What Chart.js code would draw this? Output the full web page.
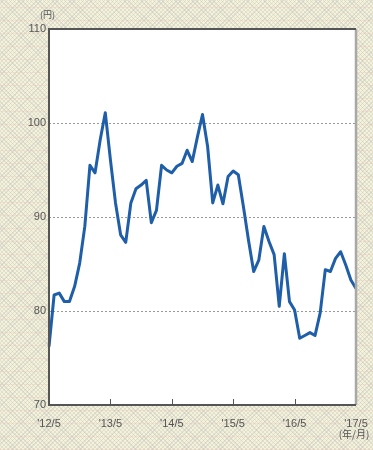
<!DOCTYPE html>
<html>
<head>
<meta charset="utf-8">
<script src="https://cdn.jsdelivr.net/npm/chart.js@4"></script>
<style>
  html, body { margin: 0; padding: 0; }
  body {
    width: 373px; height: 450px; overflow: hidden;
    background-color: #f5f2da;
    background-image:
      repeating-linear-gradient(0deg, rgba(240,180,170,.22) 0 1px, transparent 1px 13px),
      repeating-linear-gradient(45deg, rgba(185,185,185,.35) 0 1px, transparent 1px 3px),
      repeating-linear-gradient(-45deg, rgba(185,185,185,.35) 0 1px, transparent 1px 3px);
  }
  #wrap { width: 373px; height: 450px; }
</style>
</head>
<body>
<div id="wrap"><canvas id="chart"></canvas></div>
<script>
// monthly price, 2012/5 .. 2017/5 (61 points)
var prices = [
  76.2, 81.7, 81.9, 81.0, 81.0, 82.6, 85.1, 89.0, 95.5, 94.7, 98.2, 101.1,
  96.1, 91.5, 88.1, 87.3, 91.5, 93.0, 93.4, 93.9, 89.4, 90.7, 95.5, 95.0,
  94.7, 95.4, 95.7, 97.1, 95.9, 98.5, 100.9, 97.5, 91.5, 93.4, 91.4, 94.3,
  94.9, 94.5, 91.1, 87.5, 84.2, 85.4, 89.0, 87.4, 86.0, 80.5, 86.1, 81.0,
  80.1, 77.1, 77.4, 77.7, 77.4, 79.8, 84.4, 84.2, 85.6, 86.3, 84.9, 83.3,
  82.4
];
var tickLabels = ["'12/5", "'13/5", "'14/5", "'15/5", "'16/5", "'17/5"];
var yTicks = [70, 80, 90, 100, 110];
var unitY = "(円)";
var unitX = "(年/月)";

var months = [];
var yr = 2012, mo = 5;
for (var i = 0; i < prices.length; i++) {
  months.push(yr + "/" + mo);
  mo++;
  if (mo > 12) { mo = 1; yr++; }
}

var labelFont = { family: "'Liberation Sans', Arial, sans-serif", size: 11 };

// white plot area, frame, inner tick marks and unit labels
var frame = {
  id: 'frame',
  beforeDraw: function (chart) {
    var a = chart.chartArea, c = chart.ctx;
    c.save();
    c.fillStyle = '#ffffff';
    c.fillRect(a.left, a.top, a.right - a.left, a.bottom - a.top);
    c.restore();
  },
  afterDraw: function (chart) {
    var a = chart.chartArea, c = chart.ctx, xs = chart.scales.x;
    c.save();
    c.lineWidth = 2.5;
    c.strokeStyle = '#a8a8a8';
    c.beginPath();
    c.moveTo(a.right, a.top); c.lineTo(a.right, a.bottom);
    c.stroke();
    c.lineWidth = 2;
    c.strokeStyle = '#555555';
    c.beginPath();
    c.moveTo(a.right, a.top); c.lineTo(a.left, a.top);
    c.lineTo(a.left, a.bottom); c.lineTo(a.right, a.bottom);
    c.stroke();
    c.lineWidth = 1;
    for (var k = 12; k < prices.length - 1; k += 12) {
      var x = Math.round(xs.getPixelForValue(k)) + 0.5;
      c.beginPath();
      c.moveTo(x, a.bottom); c.lineTo(x, a.bottom - 6);
      c.stroke();
    }
    c.fillStyle = '#555555';
    c.font = "9px 'Noto Sans CJK JP', sans-serif";
    c.textAlign = 'left';
    c.textBaseline = 'middle';
    c.fillText(unitY, a.left - 9, 15);
    c.font = "10px 'Noto Sans CJK JP', sans-serif";
    c.textAlign = 'center';
    c.fillText(unitX, a.right - 2, 434);
    c.restore();
  }
};

new Chart(document.getElementById('chart'), {
  type: 'line',
  data: {
    labels: months,
    datasets: [{
      data: prices,
      borderColor: '#1f5ea8',
      borderWidth: 3,
      pointRadius: 0,
      tension: 0,
      borderJoinStyle: 'round'
    }]
  },
  options: {
    responsive: true,
    maintainAspectRatio: false,
    animation: false,
    layout: { padding: { left: 0, right: 17, top: 29, bottom: 14 } },
    plugins: { legend: { display: false }, tooltip: { enabled: false } },
    scales: {
      x: {
        offset: false,
        border: { display: false },
        grid: { display: false, drawTicks: false },
        ticks: {
          autoSkip: false,
          maxRotation: 0,
          padding: 12,
          color: '#555555',
          font: labelFont,
          callback: function (v, i) { return i % 12 === 0 ? tickLabels[i / 12] : ''; }
        },
        afterFit: function (s) {
          s.height = 31;
          s.paddingRight = 0;
          s.paddingLeft = 0;
        }
      },
      y: {
        min: yTicks[0],
        max: yTicks[yTicks.length - 1],
        afterBuildTicks: function (s) { s.ticks = yTicks.map(function (v) { return { value: v }; }); },
        border: { display: false, dash: [2, 2] },
        grid: {
          drawTicks: false,
          color: function (ctx) {
            var v = ctx.tick.value;
            return (v === yTicks[0] || v === yTicks[yTicks.length - 1]) ? 'rgba(0,0,0,0)' : '#999999';
          },
          lineWidth: 1
        },
        ticks: {
          padding: 3,
          color: '#555555',
          font: labelFont
        },
        afterFit: function (s) { s.width = 49; }
      }
    }
  },
  plugins: [frame]
});
</script>
</body>
</html>
